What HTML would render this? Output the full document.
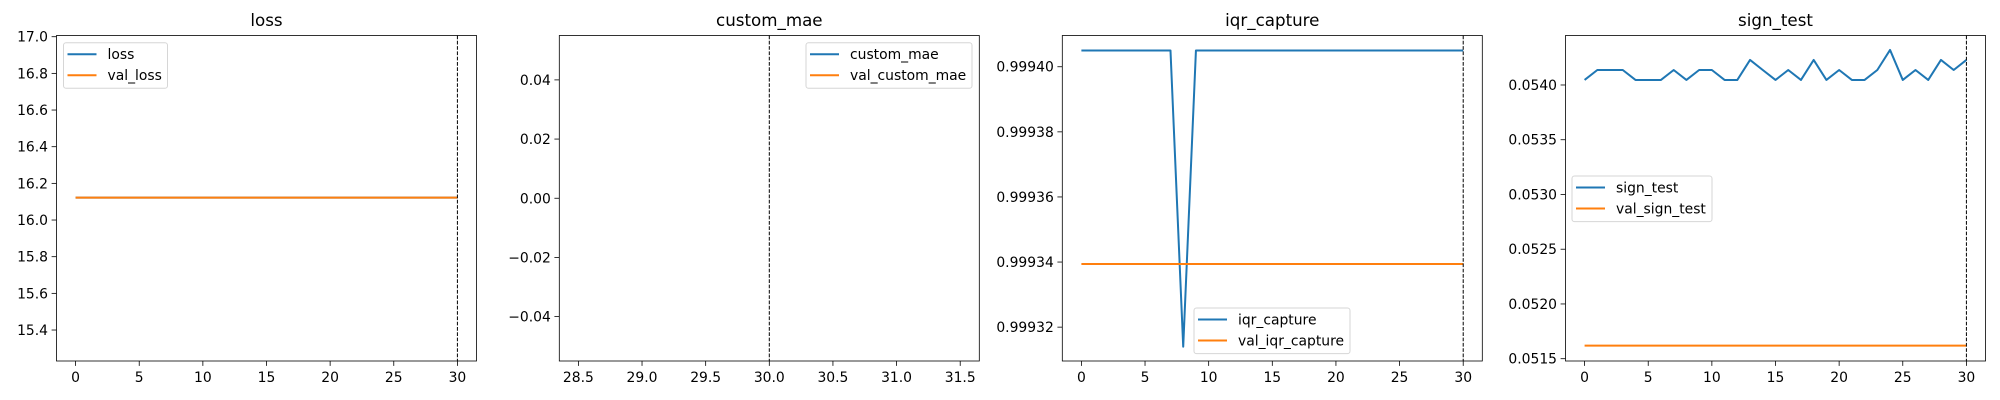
<!DOCTYPE html>
<html><head><meta charset="utf-8"><style>
body{margin:0;background:#fff}
svg{display:block}
text{font-family:"DejaVu Sans","Liberation Sans",sans-serif;fill:#000}
</style></head><body>
<svg id="fig" width="2000" height="400" xmlns="http://www.w3.org/2000/svg"></svg>
<script>
const epochs = [0,1,2,3,4,5,6,7,8,9,10,11,12,13,14,15,16,17,18,19,20,21,22,23,24,25,26,27,28,29,30];
const lossValues = epochs.map(()=>16.122);
const valLossValues = epochs.map(()=>16.122);
const customMaeValues = [];
const valCustomMaeValues = [];
const iqrValues = [0.999405,0.999405,0.999405,0.999405,0.999405,0.999405,0.999405,0.999405,0.999314,0.999405,0.999405,0.999405,0.999405,0.999405,0.999405,0.999405,0.999405,0.999405,0.999405,0.999405,0.999405,0.999405,0.999405,0.999405,0.999405,0.999405,0.999405,0.999405,0.999405,0.999405,0.999405];
const valIqrValues = epochs.map(()=>0.9993394);
const signTestValues = [0.054046,0.054137,0.054137,0.054137,0.054046,0.054046,0.054046,0.054137,0.054046,0.054137,0.054137,0.054046,0.054046,0.054229,0.054137,0.054046,0.054137,0.054046,0.054229,0.054046,0.054137,0.054046,0.054046,0.054137,0.054320,0.054046,0.054137,0.054046,0.054229,0.054137,0.054229];
const valSignTestValues = epochs.map(()=>0.051619);
const lossYTicks = [15.4,15.6,15.8,16.0,16.2,16.4,16.6,16.8,17.0];
const maeYTicks = [-0.04,-0.02,0.00,0.02,0.04];
const iqrYTicks = [0.99932,0.99934,0.99936,0.99938,0.99940];
const signYTicks = [0.0515,0.0520,0.0525,0.0530,0.0535,0.0540];
const epochXTicks = [0,5,10,15,20,25,30];
const maeXTicks = [28.5,29.0,29.5,30.0,30.5,31.0,31.5];

const NS="http://www.w3.org/2000/svg";
const svg=document.getElementById('fig');
function mk(tag,attrs,parent){const e=document.createElementNS(NS,tag);for(const k in attrs)e.setAttribute(k,attrs[k]);(parent||svg).appendChild(e);return e;}

const TOP=35.5,BOT=361,W=420;
function panel(cfg){
  const L=cfg.left;
  const g=mk('g',{});
  
  
  const xs=v=>L+(v-cfg.xmin)/(cfg.xmax-cfg.xmin)*W;
  const ys=v=>BOT-(v-cfg.ymin)/(cfg.ymax-cfg.ymin)*(BOT-TOP);
  const t=mk('text',{x:L+W/2,y:26,'text-anchor':'middle','font-size':'16.7px'},g);
  t.textContent=cfg.name;
  
  
  cfg.yticks.forEach(v=>{
    const y=ys(v);
    const tk=mk('line',{x1:L-4.9,x2:L,y1:y,y2:y,stroke:'#000','stroke-width':0.8},g);
    
    
    const lb=mk('text',{x:L-8.5,y:y+5,'text-anchor':'end','font-size':'13.9px'},g);
    lb.textContent=(v<0?'\u2212':'')+Math.abs(v).toFixed(cfg.ydec);
    
    
  });
  cfg.xticks.forEach(v=>{
    const x=xs(v);
    const tk=mk('line',{x1:x,x2:x,y1:BOT,y2:BOT+4.9,stroke:'#000','stroke-width':0.8},g);
    
    
    const lb=mk('text',{x:x,y:BOT+21,'text-anchor':'middle','font-size':'13.9px'},g);
    lb.textContent=v.toFixed(cfg.xdec);
    
    
  });
  const pts=(arr)=>arr.map((v,i)=>xs(epochs[i]).toFixed(2)+','+ys(v).toFixed(2)).join(' ');
  if(cfg.train.length){
    const p=mk('polyline',{points:pts(cfg.train),fill:'none',stroke:'#1f77b4','stroke-width':2,'stroke-linejoin':'round'},g);
    
    
  }
  if(cfg.val.length){
    const p=mk('polyline',{points:pts(cfg.val),fill:'none',stroke:'#ff7f0e','stroke-width':2,'stroke-linejoin':'round'},g);
    
    
  }
  const dl=mk('line',{x1:xs(30),x2:xs(30),y1:TOP,y2:BOT,stroke:'#000','stroke-width':1,'stroke-dasharray':'3.7,1.6'},g);
  
  
  const fr=mk('rect',{x:L,y:TOP,width:W,height:BOT-TOP,fill:'none',stroke:'#000','stroke-width':0.8},g);
  
  
  const lg=mk('g',{},g);
  
  
  const lx=cfg.legX, ly=cfg.legY;
  mk('rect',{x:lx,y:ly,width:cfg.legW,height:45.6,rx:2.5,fill:'#fff','fill-opacity':0.8,stroke:'#d6d6d6','stroke-width':1},lg);
  [[cfg.name,'#1f77b4'],['val_'+cfg.name,'#ff7f0e']].forEach((e,i)=>{
    const yy=ly+11.5+i*21;
    const eg=mk('g',{},lg);
    
    
    mk('line',{x1:lx+4,x2:lx+33,y1:yy,y2:yy,stroke:e[1],'stroke-width':2},eg);
    const tx=mk('text',{x:lx+44,y:yy+5,'font-size':'13.9px'},eg);
    tx.textContent=e[0];
  });
}
panel({name:'loss',left:56.5,xmin:-1.5,xmax:31.5,ymin:15.231,ymax:17.0066,yticks:lossYTicks,ydec:1,xticks:epochXTicks,xdec:0,train:lossValues,val:valLossValues,legX:63.5,legY:42.7,legW:104});
panel({name:'custom_mae',left:559.3,xmin:28.35,xmax:31.65,ymin:-0.055,ymax:0.055,yticks:maeYTicks,ydec:2,xticks:maeXTicks,xdec:1,train:customMaeValues,val:valCustomMaeValues,legX:806,legY:42.7,legW:166});
panel({name:'iqr_capture',left:1062.3,xmin:-1.5,xmax:31.5,ymin:0.9993096,ymax:0.9994096,yticks:iqrYTicks,ydec:5,xticks:epochXTicks,xdec:0,train:iqrValues,val:valIqrValues,legX:1194,legY:308,legW:156});
panel({name:'sign_test',left:1565.5,xmin:-1.5,xmax:31.5,ymin:0.051479,ymax:0.054452,yticks:signYTicks,ydec:4,xticks:epochXTicks,xdec:0,train:signTestValues,val:valSignTestValues,legX:1572,legY:176,legW:140});
</script>
</body></html>
